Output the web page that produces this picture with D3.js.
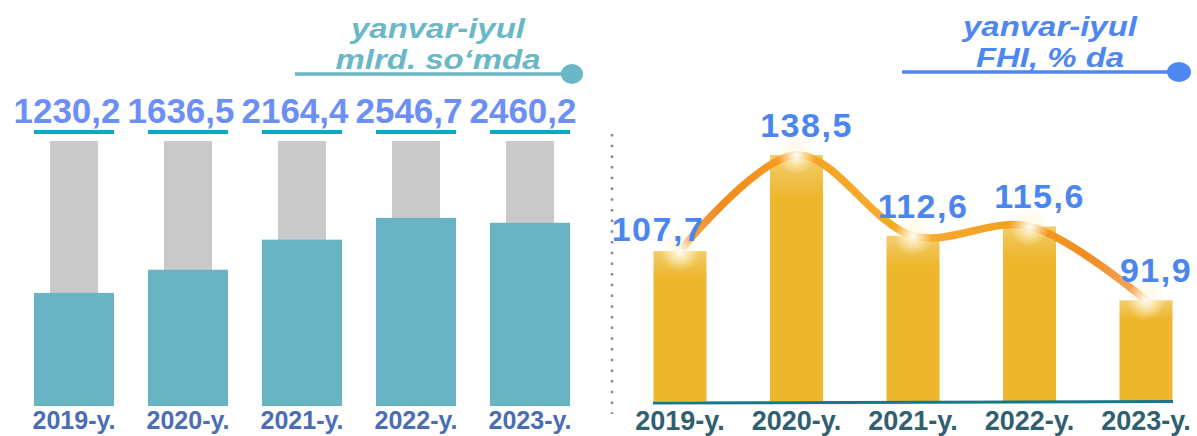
<!DOCTYPE html>
<html>
<head>
<meta charset="utf-8">
<script src="https://cdn.jsdelivr.net/npm/d3@7"></script>
<style>
  html, body { margin: 0; padding: 0; background: #fff; }
  svg { display: block; }
</style>
</head>
<body>
<div id="chart"></div>
<script>
// data
var years = ["2019-y.", "2020-y.", "2021-y.", "2022-y.", "2023-y."];
var volume = [1230.2, 1636.5, 2164.4, 2546.7, 2460.2];   // mlrd. so'm
var growth = [107.7, 138.5, 112.6, 115.6, 91.9];          // FHI, %
var leftTitle = ["yanvar-iyul", "mlrd. so\u2018mda"];
var rightTitle = ["yanvar-iyul", "FHI, % da"];

var W = 1197, H = 436;
var fmt = d3.formatLocale({decimal: ",", thousands: " ", grouping: [3], currency: ["", ""]}).format(".1f");

var svg = d3.select("#chart").append("svg")
    .attr("width", W)
    .attr("height", H);

var defs = svg.append("defs");

var glow = defs.append("radialGradient").attr("id", "glow");
glow.append("stop").attr("offset", "0%").attr("stop-color", "#fff").attr("stop-opacity", 1);
glow.append("stop").attr("offset", "35%").attr("stop-color", "#fff8e0").attr("stop-opacity", 0.7);
glow.append("stop").attr("offset", "100%").attr("stop-color", "#fff3cc").attr("stop-opacity", 0);

var lineGrad = defs.append("linearGradient").attr("id", "lineGrad")
    .attr("gradientUnits", "userSpaceOnUse")
    .attr("x1", 670).attr("x2", 1160).attr("y1", 0).attr("y2", 0);
[["0", "#f7b67a"], ["0.1", "#f08a1c"], ["0.3", "#f5a524"], ["0.5", "#f6ab2e"], ["0.7", "#f4a020"], ["0.85", "#f08c1f"], ["1", "#f7b27a"]]
  .forEach(function(s) { lineGrad.append("stop").attr("offset", s[0]).attr("stop-color", s[1]); });

var barGrad = defs.append("linearGradient").attr("id", "barGrad")
    .attr("x1", 0).attr("x2", 0).attr("y1", 0).attr("y2", 1);
barGrad.append("stop").attr("offset", "0").attr("stop-color", "#f2cd6a");
barGrad.append("stop").attr("offset", "0.18").attr("stop-color", "#edb62d");
barGrad.append("stop").attr("offset", "1").attr("stop-color", "#edb62d");

// title helper: wide bold italic
function title(g, lines, cx, y0, color) {
  g.selectAll("text")
    .data(lines)
    .enter().append("text")
    .attr("transform", function(d, i) { return "translate(" + cx + "," + (y0 + i * 31) + ") scale(1.22,1)"; })
    .attr("text-anchor", "middle")
    .attr("font-family", "Liberation Sans, Arial, sans-serif")
    .attr("font-weight", "bold")
    .attr("font-style", "italic")
    .attr("font-size", 27)
    .attr("fill", color)
    .text(function(d) { return d; });
}

// ---------- left chart: volume ----------
var xL = d3.scalePoint().domain(years).range([74, 530]);
var yL = d3.scaleLinear().domain([-754, 3895]).range([406, 141]);

var left = svg.append("g");

// gray track bars
left.selectAll(".track")
    .data(years)
    .enter().append("rect")
    .attr("x", function(d) { return xL(d) - 24; })
    .attr("y", yL(yL.domain()[1]))
    .attr("width", 48)
    .attr("height", yL(yL.domain()[0]) - yL(yL.domain()[1]))
    .attr("fill", "#c9c9c9");

// teal bars
left.selectAll(".bar")
    .data(volume)
    .enter().append("rect")
    .attr("x", function(d, i) { return xL(years[i]) - 40; })
    .attr("y", function(d) { return yL(d); })
    .attr("width", 80)
    .attr("height", function(d) { return yL(yL.domain()[0]) - yL(d); })
    .attr("fill", "#68b3c4");

// underline under values
left.selectAll(".uline")
    .data(years)
    .enter().append("rect")
    .attr("x", function(d) { return xL(d) - 40; })
    .attr("y", 130)
    .attr("width", 80)
    .attr("height", 4)
    .attr("fill", "#05adc2");

left.selectAll(".val")
    .data(volume)
    .enter().append("text")
    .attr("x", function(d, i) { return xL(years[i]) - 7; })
    .attr("y", 123)
    .attr("text-anchor", "middle")
    .attr("font-family", "Liberation Sans, Arial, sans-serif")
    .attr("font-weight", "bold")
    .attr("font-size", 35)
    .attr("fill", "#6c8ff5")
    .text(function(d) { return fmt(d); });

left.selectAll(".cat")
    .data(years)
    .enter().append("text")
    .attr("x", function(d) { return xL(d); })
    .attr("y", 429)
    .attr("text-anchor", "middle")
    .attr("font-family", "Liberation Sans, Arial, sans-serif")
    .attr("font-weight", "bold")
    .attr("font-size", 25)
    .attr("fill", "#4a6db5")
    .text(function(d) { return d; });

var lt = left.append("g");
title(lt, leftTitle, 438, 38, "#6ab7c7");
lt.append("line").attr("x1", 295).attr("x2", 565).attr("y1", 74).attr("y2", 74)
    .attr("stroke", "#6ab7c7").attr("stroke-width", 3.5);
lt.append("ellipse").attr("cx", 572).attr("cy", 74).attr("rx", 11).attr("ry", 10)
    .attr("fill", "#6ab7c7");

// divider
svg.append("line")
    .attr("x1", 612).attr("x2", 612).attr("y1", 134).attr("y2", 414)
    .attr("stroke", "#8a8a8a")
    .attr("stroke-width", 2.5)
    .attr("stroke-dasharray", "2.5 8.2");

// ---------- right chart: growth index ----------
var xR = d3.scalePoint().domain(years).range([680, 1146]);
var yR = d3.scaleLinear().domain([59.3, 138.5]).range([402, 155]);

var right = svg.append("g");

right.selectAll(".gbar")
    .data(growth)
    .enter().append("rect")
    .attr("x", function(d, i) { return xR(years[i]) - 26.5; })
    .attr("y", function(d) { return yR(d); })
    .attr("width", 53)
    .attr("height", function(d) { return 401 - yR(d); })
    .attr("fill", "url(#barGrad)");

right.append("line")
    .attr("x1", 653).attr("x2", 1173).attr("y1", 403).attr("y2", 401.5)
    .attr("stroke", "#17788a").attr("stroke-width", 3);

var pts = growth.map(function(d, i) { return [xR(years[i]), yR(d)]; });

var curve = d3.line().curve(d3.curveCatmullRom.alpha(0.5));

right.append("path")
    .attr("d", curve(pts))
    .attr("fill", "none")
    .attr("stroke", "url(#lineGrad)")
    .attr("stroke-width", 7.5)
    .attr("stroke-linecap", "round");

right.selectAll(".glow")
    .data(pts)
    .enter().append("circle")
    .attr("cx", function(d) { return d[0]; })
    .attr("cy", function(d) { return d[1]; })
    .attr("r", 20)
    .attr("fill", "url(#glow)");

right.selectAll(".gval")
    .data(growth)
    .enter().append("text")
    .attr("x", function(d, i) { return xR(years[i]) + (i === 0 ? -22 : 10); })
    .attr("y", function(d, i) { return yR(d) - (i === 0 ? 10 : 18); })
    .attr("text-anchor", "middle")
    .attr("font-family", "Liberation Sans, Arial, sans-serif")
    .attr("font-weight", "bold")
    .attr("font-size", 34)
    .attr("letter-spacing", 1.5)
    .attr("fill", "#4b86f0")
    .text(function(d) { return fmt(d); });

right.selectAll(".rcat")
    .data(years)
    .enter().append("text")
    .attr("x", function(d) { return xR(d); })
    .attr("y", 430)
    .attr("text-anchor", "middle")
    .attr("font-family", "Liberation Sans, Arial, sans-serif")
    .attr("font-weight", "bold")
    .attr("font-size", 27)
    .attr("fill", "#2f5f70")
    .text(function(d) { return d; });

var rt = right.append("g");
title(rt, rightTitle, 1050, 36, "#4e87f2");
rt.append("line").attr("x1", 902).attr("x2", 1172).attr("y1", 72).attr("y2", 72)
    .attr("stroke", "#4e87f2").attr("stroke-width", 3.5);
rt.append("ellipse").attr("cx", 1179).attr("cy", 72).attr("rx", 12).attr("ry", 10)
    .attr("fill", "#4e87f2");
</script>
</body>
</html>
